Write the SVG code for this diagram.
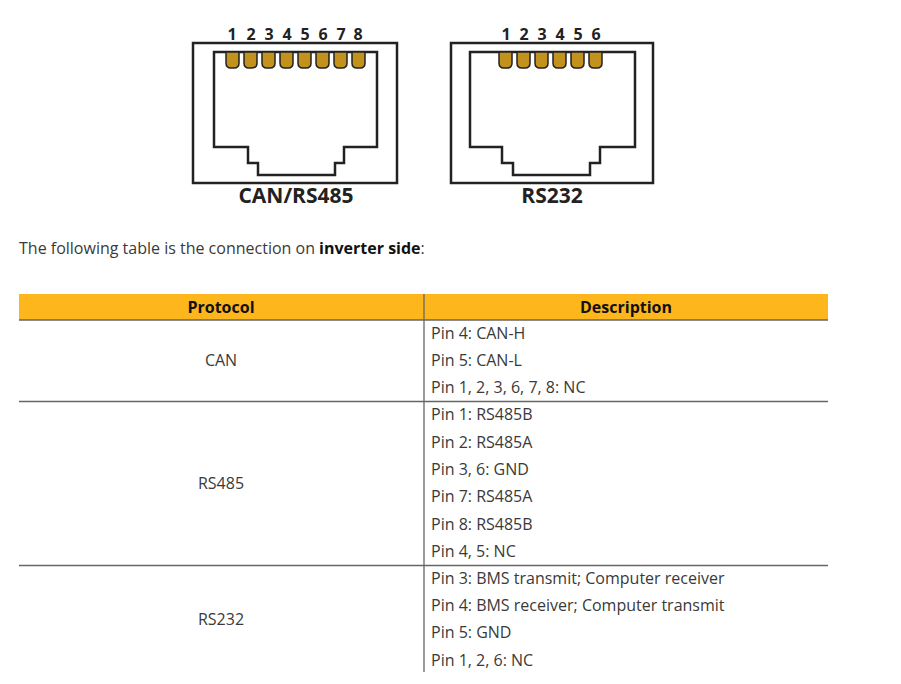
<svg xmlns="http://www.w3.org/2000/svg" width="901" height="684" viewBox="0 0 901 684">
<style>
.c{fill:none;stroke:#222;stroke-width:2.5}
.p{fill:#c3921d;stroke:#222;stroke-width:1.5}
.n{font:bold 16px "Open Sans",sans-serif;fill:#222;text-anchor:middle}
.l{font:bold 21px "Open Sans",sans-serif;fill:#222;text-anchor:middle}
.t{font:16px "Open Sans",sans-serif;fill:#3a3a3a}
.h{font:bold 16px "Open Sans",sans-serif;fill:#111;text-anchor:middle}
</style>
<defs><path id="pin" class="p" d="M0,0 h13 v11 q0,5 -5,5 h-3 q-5,0 -5,-5z"/></defs>
<rect width="901" height="684" fill="#fff"/>
<g id="canrs485">
<rect class="c" x="193" y="43" width="204" height="140"/>
<path class="c" d="M214,52 H377 V147 H344 V163 H335 V175 H258 V163 H248 V147 H214Z"/>
<use href="#pin" x="226" y="52"/><use href="#pin" x="244" y="52"/><use href="#pin" x="262" y="52"/><use href="#pin" x="280" y="52"/><use href="#pin" x="298" y="52"/><use href="#pin" x="316" y="52"/><use href="#pin" x="334" y="52"/><use href="#pin" x="352" y="52"/>
<text class="n" y="40"><tspan x="232">1</tspan><tspan x="251">2</tspan><tspan x="269">3</tspan><tspan x="287">4</tspan><tspan x="305">5</tspan><tspan x="323">6</tspan><tspan x="341">7</tspan><tspan x="358">8</tspan></text>
<text class="l" x="296" y="203">CAN/RS485</text>
</g>
<g id="rs232">
<rect class="c" x="451" y="43" width="202" height="140"/>
<path class="c" d="M470,52 H635 V147 H600 V163 H590 V175 H513 V163 H502 V147 H470Z"/>
<use href="#pin" x="499" y="52"/><use href="#pin" x="517" y="52"/><use href="#pin" x="535" y="52"/><use href="#pin" x="553" y="52"/><use href="#pin" x="571" y="52"/><use href="#pin" x="589" y="52"/>
<text class="n" y="40"><tspan x="506">1</tspan><tspan x="524">2</tspan><tspan x="542">3</tspan><tspan x="560">4</tspan><tspan x="578">5</tspan><tspan x="596">6</tspan></text>
<text class="l" x="552" y="203">RS232</text>
</g>
<text class="t" x="19" y="254">The following table is the connection on <tspan font-weight="bold" fill="#111">inverter side</tspan>:</text>
<g id="table">
<rect x="19" y="294" width="809" height="26" fill="#fdb71c"/>
<text class="h" x="221" y="313">Protocol</text>
<text class="h" x="626" y="313">Description</text>
<g stroke="#666" stroke-width="1.3">
<line x1="19" y1="320" x2="828" y2="320"/>
<line x1="19" y1="401.5" x2="828" y2="401.5"/>
<line x1="19" y1="565.5" x2="828" y2="565.5"/>
<line x1="424" y1="294" x2="424" y2="672"/>
</g>
<text class="t" x="221" y="366" text-anchor="middle">CAN</text>
<text class="t" x="221" y="489" text-anchor="middle">RS485</text>
<text class="t" x="221" y="625" text-anchor="middle">RS232</text>
<text class="t" x="431">
<tspan y="339">Pin 4: CAN-H</tspan>
<tspan x="431" y="366">Pin 5: CAN-L</tspan>
<tspan x="431" y="393">Pin 1, 2, 3, 6, 7, 8: NC</tspan>
<tspan x="431" y="420">Pin 1: RS485B</tspan>
<tspan x="431" y="448">Pin 2: RS485A</tspan>
<tspan x="431" y="475">Pin 3, 6: GND</tspan>
<tspan x="431" y="502">Pin 7: RS485A</tspan>
<tspan x="431" y="530">Pin 8: RS485B</tspan>
<tspan x="431" y="557">Pin 4, 5: NC</tspan>
<tspan x="431" y="584">Pin 3: BMS transmit; Computer receiver</tspan>
<tspan x="431" y="611">Pin 4: BMS receiver; Computer transmit</tspan>
<tspan x="431" y="638">Pin 5: GND</tspan>
<tspan x="431" y="666">Pin 1, 2, 6: NC</tspan>
</text>
</g>
</svg>
